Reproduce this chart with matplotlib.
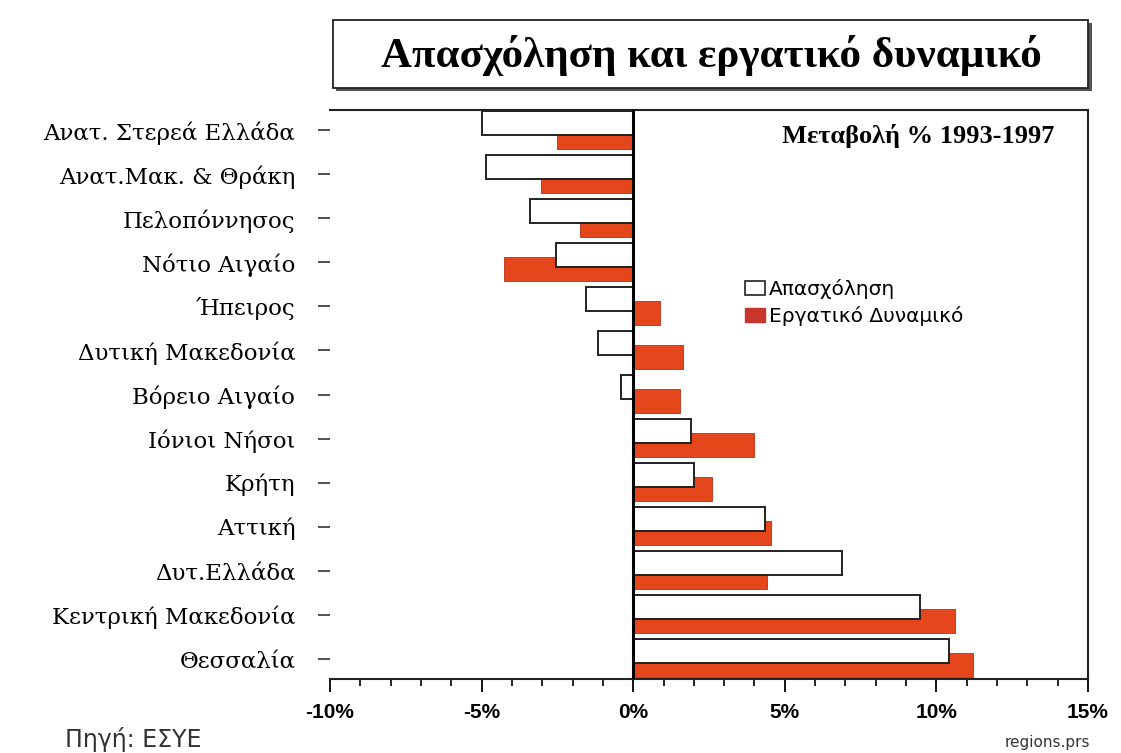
import matplotlib
matplotlib.use("Agg")
import matplotlib.pyplot as plt
from matplotlib.patches import Rectangle, Patch
from matplotlib.ticker import MultipleLocator, FuncFormatter

regions = ["Ανατ. Στερεά Ελλάδα", "Ανατ.Μακ. & Θράκη", "Πελοπόννησος", "Νότιο Αιγαίο",
           "Ήπειρος", "Δυτική Μακεδονία", "Βόρειο Αιγαίο", "Ιόνιοι Νήσοι", "Κρήτη",
           "Αττική", "Δυτ.Ελλάδα", "Κεντρική Μακεδονία", "Θεσσαλία"]
employment = [-5.0, -4.85, -3.4, -2.55, -1.55, -1.15, -0.4, 1.9, 2.0, 4.35, 6.9, 9.45, 10.4]
labour_force = [-2.5, -3.05, -1.75, -4.25, 0.9, 1.65, 1.55, 4.0, 2.6, 4.55, 4.4, 10.6, 11.2]
xticks = [-10, -5, 0, 5, 10, 15]

RED = "#E5461C"

fig = plt.figure(figsize=(11.21, 7.53), dpi=100)
ax = fig.add_axes([330/1121, 1-679/753, (1088-330)/1121, (679-110)/753])

ypos = list(range(len(regions)))
ax.barh([y + 0.15 for y in ypos], labour_force, height=0.55, color=RED,
        edgecolor="#B83010", linewidth=0.6, zorder=2)
ax.barh([y - 0.17 for y in ypos], employment, height=0.55, color="white",
        edgecolor="#222222", linewidth=1.4, zorder=3)

ax.axvline(0, color="black", linewidth=2.2, zorder=4)

ax.set_xlim(-10, 15)
ax.set_ylim(len(regions) - 0.54, -0.46)
ax.set_xticks(xticks)
ax.xaxis.set_minor_locator(MultipleLocator(1))
ax.xaxis.set_major_formatter(FuncFormatter(lambda v, p: f"{int(v)}%"))
ax.set_yticks(ypos)
ax.set_yticklabels(regions, family="DejaVu Serif", fontsize=16.5)

for lbl in ax.get_xticklabels():
    lbl.set_fontfamily("Liberation Sans")
    lbl.set_fontweight("bold")
    lbl.set_fontsize(15)

ax.tick_params(axis="x", which="major", direction="out", length=9, width=1.3, pad=8)
ax.tick_params(axis="x", which="minor", direction="out", length=5, width=1.2)
ax.tick_params(axis="y", direction="out", length=9, width=1.2, pad=16, color="#333333")

ax.spines["left"].set_visible(False)
for s in ["top", "right", "bottom"]:
    ax.spines[s].set_linewidth(1.5)
    ax.spines[s].set_color("#222222")

ax.text(0.955, 0.955, "Μεταβολή % 1993-1997", transform=ax.transAxes, ha="right",
        va="center", family="Liberation Serif", fontweight="bold", fontsize=19)

handles = [Patch(facecolor="white", edgecolor="#222222", linewidth=1.2, label="Απασχόληση"),
           Patch(facecolor="#C8362C", edgecolor="#C8362C", label="Εργατικό Δυναμικό")]
leg = ax.legend(handles=handles, loc="upper left", bbox_to_anchor=(0.523, 0.735),
                frameon=False, prop={"family": "DejaVu Sans", "size": 14.5},
                handlelength=1.0, handleheight=0.75, handletextpad=0.2, labelspacing=0.35)

# title box
shadow = Rectangle((336/1121, 1-91/753), (1092-336)/1121, (91-23)/753,
                   transform=fig.transFigure, facecolor="#555555", edgecolor="none", zorder=1)
box = Rectangle((333/1121, 1-88/753), (1088-333)/1121, (88-20)/753,
                transform=fig.transFigure, facecolor="white", edgecolor="#222222",
                linewidth=1.3, zorder=2)
fig.patches.extend([shadow, box])
fig.text(711/1121, 1-55/753, "Απασχόληση και εργατικό δυναμικό", ha="center", va="center",
         family="Liberation Serif", fontweight="bold", fontsize=31, zorder=3)

fig.text(65/1121, 1-740/753, "Πηγή: ΕΣΥΕ", ha="left", va="center",
         family="DejaVu Sans", fontsize=17, color="#333333")
fig.text(1090/1121, 1-742/753, "regions.prs", ha="right", va="center",
         family="DejaVu Sans", fontsize=11, color="#333333")

fig.savefig("out.png", dpi=100, facecolor="white")
